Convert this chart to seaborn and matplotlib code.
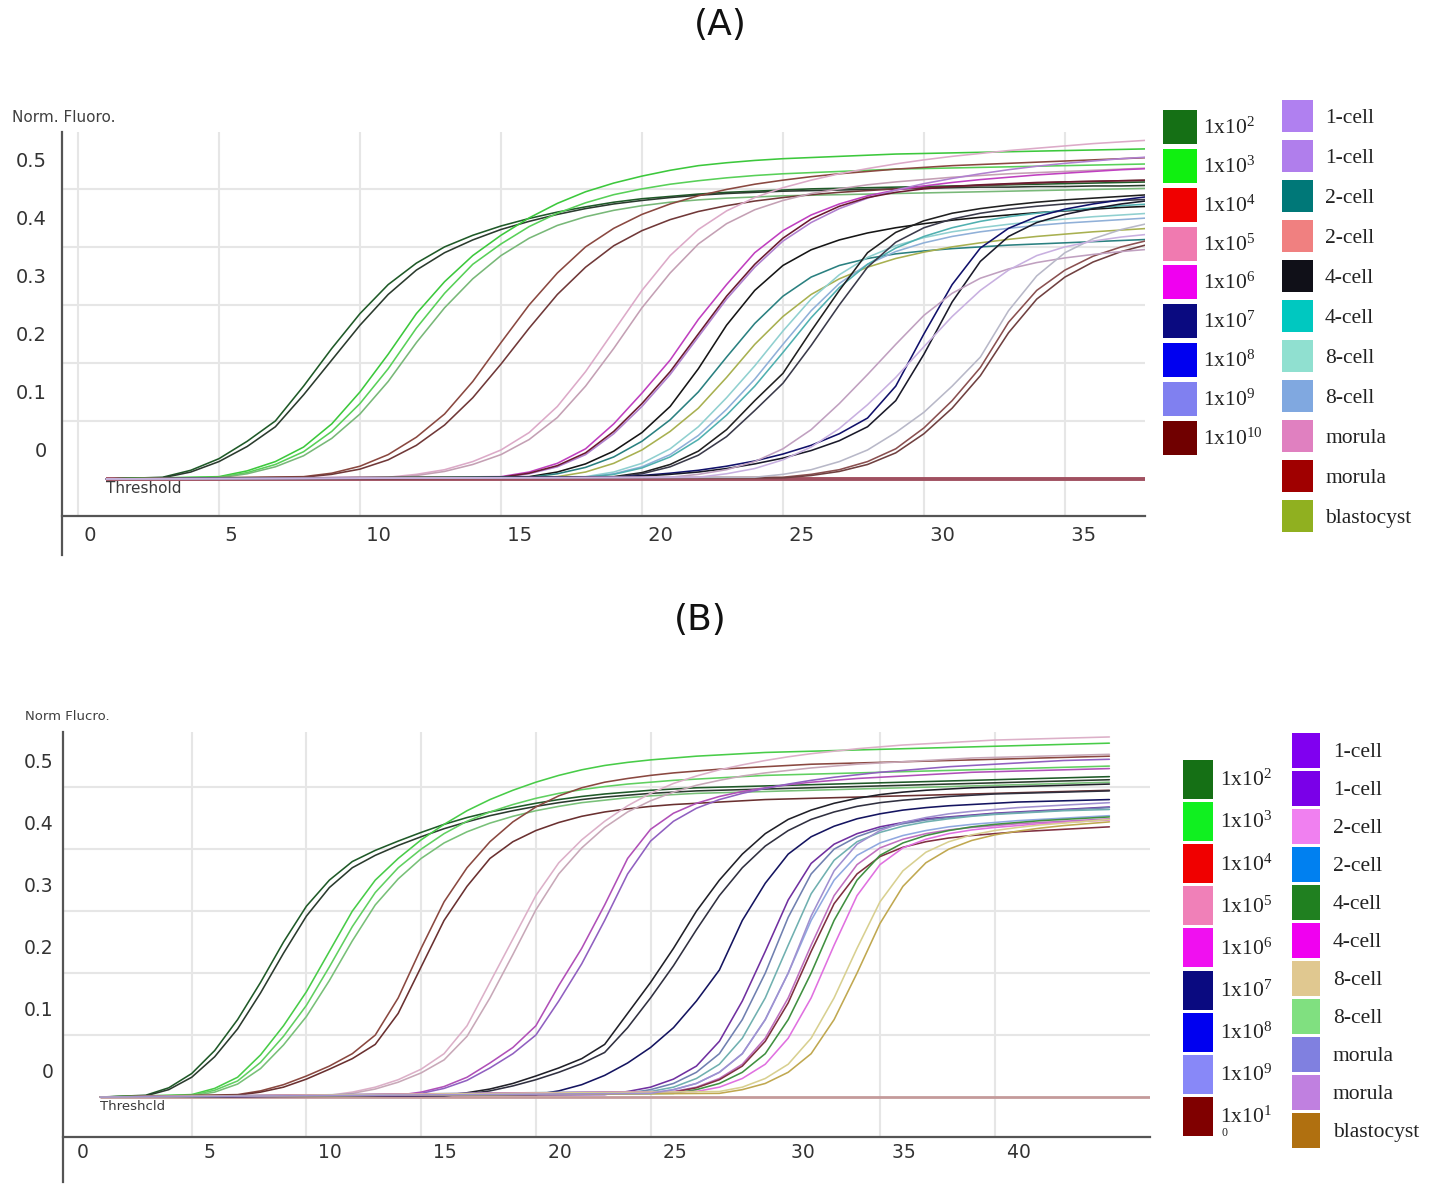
import numpy as np
import pandas as pd
import matplotlib
matplotlib.use("Agg")
import matplotlib.pyplot as plt
import seaborn as sns
from matplotlib.patches import Patch

# ---------------- data: panel A (cycle values) ----------------
a_colors = ['#1f5a28', '#2b3b2e', '#3cc83c', '#58d058', '#78b878', '#8a4840', '#703838',
            '#dcaac8', '#c4a0b4', '#c040c0', '#b080d0', '#6a1a30', '#151515', '#2a8080',
            '#a8b050', '#90d0d0', '#90b0d8', '#50b0b0', '#202020', '#3a3a4a', '#10106a',
            '#1a1a2a', '#8a5050', '#704040', '#c0a0c0', '#b8b8c8', '#c8b0e0']
a_starts = [3, 3, 5, 5, 5, 8, 8, 11, 11, 15, 15, 15, 16, 16, 17, 18, 18, 18, 19, 19, 19, 19,
            25, 25, 21, 24, 22]
a_values = [
    [0.003,0.015,0.035,0.065,0.100,0.160,0.225,0.285,0.335,0.372,0.400,0.420,0.436,0.449,0.460,0.469,0.477,0.483,0.487,0.491,0.494,0.496,0.498,0.500,0.501,0.502,0.503,0.504,0.505,0.506,0.507,0.508,0.509,0.510,0.511,0.512],
    [0.002,0.012,0.030,0.056,0.090,0.145,0.205,0.265,0.318,0.360,0.390,0.412,0.430,0.444,0.456,0.466,0.474,0.480,0.485,0.489,0.492,0.494,0.496,0.497,0.498,0.499,0.500,0.501,0.502,0.503,0.503,0.504,0.504,0.505,0.505,0.506],
    [0.004,0.014,0.030,0.055,0.095,0.150,0.215,0.285,0.340,0.385,0.420,0.450,0.475,0.495,0.510,0.522,0.532,0.540,0.545,0.549,0.552,0.554,0.556,0.558,0.560,0.561,0.562,0.563,0.564,0.565,0.566,0.567,0.568,0.569],
    [0.003,0.011,0.025,0.047,0.082,0.130,0.190,0.260,0.320,0.370,0.405,0.435,0.458,0.476,0.490,0.500,0.508,0.514,0.519,0.523,0.526,0.528,0.530,0.532,0.534,0.535,0.536,0.537,0.538,0.539,0.540,0.541,0.542,0.543],
    [0.002,0.009,0.021,0.040,0.070,0.112,0.168,0.235,0.295,0.345,0.385,0.415,0.437,0.452,0.463,0.471,0.477,0.481,0.484,0.486,0.488,0.489,0.490,0.491,0.492,0.493,0.494,0.495,0.496,0.497,0.498,0.499,0.500,0.501],
    [0.004,0.010,0.022,0.042,0.072,0.112,0.168,0.235,0.300,0.355,0.400,0.432,0.456,0.474,0.488,0.499,0.508,0.515,0.521,0.526,0.530,0.534,0.537,0.540,0.542,0.544,0.546,0.548,0.550,0.552,0.554],
    [0.003,0.008,0.017,0.033,0.058,0.093,0.140,0.198,0.260,0.318,0.365,0.402,0.428,0.447,0.461,0.471,0.479,0.485,0.490,0.494,0.497,0.500,0.502,0.504,0.506,0.508,0.510,0.512,0.513,0.514,0.515],
    [0.003,0.008,0.016,0.030,0.050,0.080,0.125,0.185,0.255,0.325,0.385,0.430,0.462,0.485,0.502,0.515,0.526,0.535,0.543,0.550,0.556,0.561,0.566,0.570,0.574,0.578,0.581,0.584],
    [0.002,0.006,0.013,0.025,0.042,0.068,0.106,0.160,0.225,0.295,0.355,0.405,0.440,0.464,0.480,0.492,0.500,0.507,0.512,0.516,0.520,0.523,0.526,0.528,0.530,0.532,0.534,0.536],
    [0.004,0.012,0.027,0.052,0.095,0.148,0.205,0.275,0.335,0.390,0.428,0.455,0.474,0.488,0.498,0.505,0.511,0.516,0.520,0.524,0.527,0.530,0.533,0.535],
    [0.003,0.009,0.021,0.042,0.078,0.125,0.180,0.245,0.310,0.365,0.410,0.442,0.466,0.484,0.498,0.509,0.518,0.526,0.533,0.539,0.544,0.548,0.552,0.555],
    [0.003,0.010,0.023,0.045,0.082,0.130,0.185,0.250,0.315,0.370,0.415,0.448,0.470,0.485,0.494,0.500,0.504,0.507,0.509,0.511,0.512,0.513,0.514,0.515],
    [0.004,0.012,0.026,0.048,0.080,0.125,0.190,0.265,0.325,0.368,0.395,0.412,0.424,0.433,0.440,0.446,0.451,0.455,0.459,0.462,0.465,0.468,0.470],
    [0.003,0.009,0.020,0.038,0.065,0.102,0.150,0.210,0.268,0.315,0.348,0.368,0.380,0.388,0.393,0.397,0.400,0.403,0.405,0.407,0.409,0.411,0.413],
    [0.004,0.012,0.027,0.050,0.082,0.122,0.175,0.232,0.280,0.318,0.345,0.365,0.380,0.391,0.400,0.407,0.413,0.418,0.422,0.426,0.429,0.432],
    [0.004,0.012,0.027,0.052,0.090,0.140,0.195,0.255,0.310,0.352,0.382,0.402,0.416,0.426,0.433,0.439,0.444,0.448,0.452,0.455,0.458],
    [0.003,0.009,0.021,0.042,0.075,0.120,0.172,0.232,0.290,0.337,0.370,0.392,0.407,0.418,0.426,0.432,0.437,0.441,0.444,0.447,0.450],
    [0.003,0.008,0.019,0.038,0.068,0.110,0.160,0.218,0.278,0.330,0.370,0.398,0.418,0.433,0.444,0.452,0.458,0.463,0.467,0.471,0.474],
    [0.004,0.011,0.025,0.048,0.085,0.135,0.182,0.255,0.325,0.390,0.425,0.445,0.458,0.466,0.472,0.477,0.481,0.484,0.487,0.490],
    [0.003,0.009,0.021,0.041,0.073,0.118,0.165,0.230,0.300,0.365,0.408,0.433,0.448,0.458,0.465,0.470,0.474,0.477,0.480,0.482],
    [0.003,0.006,0.010,0.015,0.022,0.031,0.043,0.058,0.078,0.105,0.160,0.250,0.335,0.398,0.432,0.452,0.465,0.474,0.481,0.487],
    [0.002,0.005,0.008,0.012,0.018,0.026,0.036,0.049,0.066,0.090,0.135,0.215,0.305,0.375,0.418,0.442,0.456,0.466,0.474,0.480],
    [0.003,0.008,0.016,0.030,0.052,0.088,0.135,0.192,0.270,0.325,0.360,0.384,0.400,0.412],
    [0.002,0.006,0.013,0.025,0.045,0.078,0.122,0.178,0.252,0.310,0.348,0.374,0.392,0.405],
    [0.003,0.008,0.016,0.030,0.052,0.085,0.130,0.180,0.232,0.282,0.320,0.346,0.362,0.373,0.381,0.387,0.392,0.396],
    [0.003,0.008,0.016,0.030,0.050,0.080,0.115,0.160,0.210,0.290,0.350,0.390,0.414,0.430,0.441],
    [0.003,0.009,0.018,0.033,0.055,0.087,0.128,0.175,0.228,0.280,0.325,0.360,0.385,0.400,0.410,0.417,0.422],
]

# ---------------- data: panel B ----------------
b_colors = ['#1f5a28', '#2b3b2e', '#48cc48', '#60d060', '#78c078', '#8a4840', '#6a3030',
            '#dcb0c8', '#c8a8b8', '#b050b8', '#9060c0', '#202028', '#303040', '#141460',
            '#7030a0', '#7080b0', '#70b0b0', '#90a8e0', '#c070c0', '#803040', '#409040',
            '#e070e0', '#c0a850', '#d8d090', '#a090d0']
b_starts = [3, 3, 5, 5, 5, 7, 7, 11, 11, 14, 14, 16, 16, 20, 23, 24, 25, 25, 26, 26, 26, 27,
            28, 28, 25]
b_values = [
    [0.003,0.015,0.038,0.075,0.125,0.185,0.250,0.308,0.350,0.380,0.398,0.413,0.427,0.440,0.451,0.460,0.467,0.474,0.480,0.485,0.489,0.492,0.495,0.497,0.499,0.500,0.501,0.502,0.503,0.504,0.505,0.506,0.507,0.508,0.509,0.510,0.511,0.512,0.513,0.514,0.515,0.516,0.517],
    [0.002,0.012,0.032,0.065,0.110,0.168,0.232,0.292,0.338,0.370,0.390,0.406,0.420,0.433,0.444,0.454,0.462,0.469,0.475,0.480,0.484,0.487,0.490,0.492,0.494,0.495,0.496,0.497,0.498,0.499,0.500,0.501,0.502,0.503,0.504,0.505,0.506,0.507,0.508,0.509,0.510,0.511,0.512],
    [0.004,0.014,0.032,0.068,0.115,0.170,0.235,0.300,0.350,0.385,0.415,0.440,0.462,0.480,0.495,0.508,0.519,0.528,0.535,0.540,0.544,0.547,0.550,0.552,0.554,0.556,0.557,0.558,0.559,0.560,0.561,0.562,0.563,0.564,0.565,0.566,0.567,0.568,0.569,0.570,0.571],
    [0.003,0.011,0.026,0.056,0.098,0.148,0.210,0.275,0.330,0.370,0.400,0.425,0.445,0.460,0.472,0.482,0.490,0.496,0.501,0.505,0.508,0.511,0.513,0.515,0.517,0.519,0.520,0.521,0.522,0.523,0.524,0.525,0.526,0.527,0.528,0.529,0.530,0.531,0.532,0.533,0.534],
    [0.002,0.008,0.021,0.046,0.084,0.130,0.188,0.252,0.310,0.352,0.385,0.410,0.428,0.442,0.453,0.462,0.469,0.475,0.479,0.483,0.486,0.488,0.490,0.491,0.492,0.493,0.494,0.495,0.496,0.497,0.498,0.499,0.500,0.501,0.502,0.503,0.504,0.505,0.506,0.507,0.508],
    [0.004,0.010,0.020,0.034,0.050,0.070,0.100,0.160,0.240,0.315,0.370,0.412,0.444,0.468,0.486,0.499,0.508,0.514,0.519,0.523,0.526,0.529,0.531,0.533,0.535,0.537,0.538,0.539,0.540,0.541,0.542,0.543,0.544,0.545,0.546,0.547,0.548,0.549,0.550],
    [0.003,0.008,0.016,0.029,0.045,0.062,0.085,0.135,0.210,0.285,0.340,0.385,0.412,0.430,0.443,0.453,0.460,0.465,0.469,0.472,0.474,0.476,0.478,0.480,0.481,0.482,0.483,0.484,0.485,0.486,0.487,0.488,0.489,0.490,0.491,0.492,0.493,0.494,0.495],
    [0.003,0.008,0.016,0.028,0.045,0.070,0.115,0.185,0.255,0.325,0.378,0.415,0.445,0.470,0.490,0.506,0.518,0.528,0.536,0.543,0.549,0.554,0.558,0.562,0.565,0.568,0.570,0.572,0.574,0.576,0.577,0.578,0.579,0.580,0.581],
    [0.002,0.006,0.013,0.024,0.039,0.060,0.098,0.160,0.230,0.302,0.360,0.402,0.435,0.460,0.478,0.492,0.503,0.511,0.518,0.523,0.527,0.531,0.534,0.537,0.539,0.541,0.543,0.545,0.547,0.548,0.549,0.550,0.551,0.552,0.553],
    [0.003,0.008,0.017,0.032,0.055,0.080,0.115,0.180,0.240,0.310,0.385,0.432,0.458,0.474,0.485,0.493,0.499,0.504,0.508,0.511,0.514,0.516,0.518,0.520,0.522,0.524,0.525,0.526,0.527,0.528,0.529,0.530],
    [0.002,0.006,0.014,0.027,0.047,0.070,0.100,0.155,0.215,0.285,0.360,0.413,0.445,0.466,0.480,0.490,0.498,0.505,0.511,0.516,0.520,0.524,0.527,0.530,0.533,0.535,0.537,0.539,0.541,0.543,0.544,0.545],
    [0.003,0.007,0.013,0.022,0.034,0.047,0.062,0.085,0.135,0.185,0.240,0.300,0.350,0.392,0.425,0.448,0.463,0.474,0.482,0.488,0.492,0.495,0.497,0.499,0.500,0.501,0.502,0.503,0.504,0.505],
    [0.002,0.005,0.010,0.018,0.028,0.040,0.054,0.072,0.112,0.160,0.212,0.270,0.325,0.370,0.405,0.430,0.448,0.460,0.469,0.475,0.479,0.482,0.485,0.487,0.489,0.490,0.491,0.492,0.493,0.494],
    [0.004,0.010,0.020,0.035,0.055,0.080,0.112,0.155,0.205,0.285,0.345,0.392,0.420,0.437,0.449,0.457,0.463,0.467,0.470,0.472,0.474,0.476,0.477,0.478,0.479,0.480],
    [0.004,0.009,0.016,0.029,0.050,0.090,0.155,0.235,0.318,0.377,0.408,0.425,0.436,0.443,0.449,0.452,0.455,0.458,0.460,0.462,0.464,0.466,0.468],
    [0.006,0.012,0.022,0.040,0.070,0.125,0.200,0.290,0.360,0.400,0.420,0.433,0.441,0.447,0.451,0.454,0.457,0.459,0.461,0.463,0.465,0.467],
    [0.009,0.016,0.030,0.053,0.095,0.160,0.245,0.328,0.382,0.412,0.427,0.437,0.444,0.449,0.453,0.456,0.458,0.460,0.462,0.463,0.464],
    [0.006,0.012,0.022,0.040,0.070,0.125,0.200,0.285,0.350,0.390,0.410,0.422,0.430,0.436,0.440,0.443,0.446,0.448,0.450,0.452,0.454],
    [0.009,0.016,0.030,0.053,0.095,0.160,0.245,0.325,0.375,0.402,0.416,0.425,0.431,0.435,0.438,0.441,0.443,0.445,0.447,0.449],
    [0.008,0.015,0.028,0.050,0.090,0.152,0.235,0.312,0.360,0.388,0.403,0.412,0.418,0.422,0.425,0.428,0.430,0.432,0.434,0.436],
    [0.006,0.012,0.022,0.040,0.070,0.125,0.200,0.285,0.350,0.390,0.410,0.422,0.430,0.436,0.440,0.443,0.446,0.448,0.450,0.452],
    [0.009,0.016,0.030,0.053,0.095,0.160,0.245,0.325,0.375,0.402,0.416,0.425,0.431,0.435,0.438,0.441,0.443,0.445,0.447],
    [0.006,0.012,0.022,0.040,0.070,0.125,0.200,0.280,0.340,0.378,0.400,0.414,0.423,0.429,0.434,0.438,0.441,0.444],
    [0.009,0.016,0.030,0.053,0.095,0.160,0.240,0.315,0.365,0.395,0.412,0.423,0.430,0.435,0.439,0.442,0.445,0.448],
    [0.006,0.012,0.022,0.040,0.070,0.125,0.200,0.292,0.365,0.408,0.430,0.443,0.451,0.457,0.461,0.464,0.467,0.469,0.471,0.473,0.475],
]

threshold_level = 0.0
threshold_start = 1

# axis ticks / labels
y_ticks = [0.0, 0.1, 0.2, 0.3, 0.4, 0.5]
y_tick_labels = ['0', '0.1', '0.2', '0.3', '0.4', '0.5']
a_x_ticks = [0, 5, 10, 15, 20, 25, 30, 35]
a_x_labels = ['0', '5', '10', '15', '20', '25', '30', '35']
b_x_ticks = [0, 5, 10, 15, 20, 25, 30.6, 35, 40]
b_x_labels = ['0', '5', '10', '15', '20', '25', '30', '35', '40']
a_grid_x = [0, 5, 10, 15, 20, 25, 30, 35]
b_grid_x = [5, 10, 15, 20, 25, 35, 40]
grid_y = [0.1, 0.2, 0.3, 0.4, 0.5]

# legends
a_std_labels = ['1x10$^{2}$', '1x10$^{3}$', '1x10$^{4}$', '1x10$^{5}$', '1x10$^{6}$',
                '1x10$^{7}$', '1x10$^{8}$', '1x10$^{9}$', '1x10$^{10}$']
a_std_colors = ['#157015', '#10f010', '#f00000', '#f07ab0', '#f000f0', '#0a0a80',
                '#0000f0', '#8080f0', '#700000']
a_smp_labels = ['1-cell', '1-cell', '2-cell', '2-cell', '4-cell', '4-cell', '8-cell',
                '8-cell', 'morula', 'morula', 'blastocyst']
a_smp_colors = ['#b080f0', '#b07eec', '#007878', '#f08080', '#101018', '#00c8c0',
                '#90e0d0', '#80a8e0', '#e080c0', '#a00000', '#90b020']
b_std_labels = ['1x10$^{2}$', '1x10$^{3}$', '1x10$^{4}$', '1x10$^{5}$', '1x10$^{6}$',
                '1x10$^{7}$', '1x10$^{8}$', '1x10$^{9}$', '1x10$^{1}$']
b_std_colors = ['#157015', '#10f020', '#f00000', '#f080b8', '#f010f0', '#0a0a80',
                '#0000f0', '#8888f8', '#800000']
b_smp_labels = ['1-cell', '1-cell', '2-cell', '2-cell', '4-cell', '4-cell', '8-cell',
                '8-cell', 'morula', 'morula', 'blastocyst']
b_smp_colors = ['#8000f0', '#7a00e8', '#f080f0', '#0080f0', '#208020', '#f000f0',
                '#e0c890', '#80e080', '#8080e0', '#c080e0', '#b07010']

# ---------------- figure ----------------
sns.set_style('white')
plt.rcParams['font.family'] = ['DejaVu Sans']
plt.rcParams['mathtext.default'] = 'regular'

W, H = 1434, 1187
fig = plt.figure(figsize=(W / 100, H / 100), dpi=100)
fig.patch.set_facecolor('white')

AXC = '#555555'
GRIDC = '#e6e6e6'


def panel(rect, colors, starts, values, xlim, ylim, axis_y, x_ticks, x_labels, grid_x,
          label_dx, label_dy, lab_size, tick_len, tick_pad, lead, thr_color, thr_lw,
          thr_text, thr_size, no_zero_tick):
    ax = fig.add_axes(rect)
    rows = []
    for i, (s, vals) in enumerate(zip(starts, values)):
        name = 'c%02d' % i
        rows.append((name, threshold_start, 0.0))
        for k, v in enumerate(vals):
            rows.append((name, s + k, v))
    df = pd.DataFrame(rows, columns=['curve', 'cycle', 'value'])
    pal = {'c%02d' % i: c for i, c in enumerate(colors)}
    # grid
    ax.vlines(grid_x, axis_y, ylim[1], color=GRIDC, lw=1.5, zorder=0)
    ax.hlines(grid_y, xlim[0], xlim[1], color=GRIDC, lw=1.5, zorder=0)
    # threshold
    ax.hlines(threshold_level, threshold_start, xlim[1], color=thr_color, lw=thr_lw, zorder=1)
    sns.lineplot(data=df, x='cycle', y='value', hue='curve', palette=pal, estimator=None,
                 legend=False, linewidth=1.15, ax=ax, zorder=3)
    ax.set_xlabel('')
    ax.set_ylabel('')
    ax.set_xlim(*xlim)
    ax.set_ylim(*ylim)
    for s in ['top', 'right']:
        ax.spines[s].set_visible(False)
    for s in ['left', 'bottom']:
        ax.spines[s].set_color(AXC)
        ax.spines[s].set_linewidth(1.6)
    ax.spines['bottom'].set_position(('data', axis_y))
    ax.set_yticks(y_ticks)
    ax.set_yticklabels([])
    ax.tick_params(axis='y', direction='out', length=8, width=1.6, color=AXC)
    for v, t in zip(y_ticks, y_tick_labels):
        ax.annotate(t, xy=(0, v), xycoords=('axes fraction', 'data'),
                    xytext=(label_dx, label_dy), textcoords='offset points',
                    ha='right', va='center', fontsize=lab_size, color='#333333')
    shown = [(t if (no_zero_tick and t == '0') else lead + t) for t in x_labels]
    ax.set_xticks(x_ticks)
    ax.set_xticklabels(shown)
    ax.tick_params(axis='x', direction='out', length=tick_len, width=1.4, color=AXC,
                   pad=tick_pad, labelsize=lab_size, labelcolor='#333333')
    plt.setp(ax.get_xticklabels(), ha='left')
    if no_zero_tick:
        ax.xaxis.get_major_ticks()[0].tick1line.set_visible(False)
    ax.text(threshold_start, -0.004, thr_text, ha='left', va='top', fontsize=thr_size,
            color='#3a3a3a', zorder=5)
    return ax


axA = panel([62 / W, 1 - 555 / H, 1083 / W, 423 / H], a_colors, a_starts, a_values,
            (-0.567, 37.84), (-0.131, 0.598), -0.064, a_x_ticks, a_x_labels, a_grid_x,
            -11, 19.5, 14, 6.5, 0.5, ' ', '#a05060', 2.8, 'Threshold', 11, False)
axB = panel([63 / W, 1 - 1182 / H, 1087 / W, 450 / H], b_colors, b_starts, b_values,
            (-0.61, 46.77), (-0.137, 0.589), -0.0645, b_x_ticks, b_x_labels, b_grid_x,
            -7, 17.5, 13.5, 18, -13.5, '  ', '#c49a9a', 2.0, 'Threshcld', 9.5, True)

# titles and axis names
fig.text(720 / W, 1 - 25 / H, '(A)', ha='center', va='center', fontsize=26, color='#111111')
fig.text(700 / W, 1 - 620 / H, '(B)', ha='center', va='center', fontsize=26, color='#111111')
fig.text(12 / W, 1 - 118 / H, 'Norm. Fluoro.', ha='left', va='center', fontsize=11,
         color='#404040')
fig.text(25 / W, 1 - 716 / H, 'Norm Flucro.', ha='left', va='center', fontsize=9.5,
         color='#404040')

# legends
LEG_FONT = {'family': 'Liberation Serif', 'size': 15.5}


def legend(labels, colors, x_px, y_px, hl, hh, ls, htp):
    handles = [Patch(facecolor=c, edgecolor='none') for c in colors]
    leg = fig.legend(handles, labels, loc='upper left',
                     bbox_to_anchor=(x_px / W, 1 - y_px / H), bbox_transform=fig.transFigure,
                     frameon=False, borderpad=0, borderaxespad=0, handlelength=hl,
                     handleheight=hh, labelspacing=ls, handletextpad=htp, prop=LEG_FONT)
    for t in leg.get_texts():
        t.set_color('#222222')
    return leg


legend(a_std_labels, a_std_colors, 1163, 110, 1.58, 2.06, 0.22, 0.28)
legend(a_smp_labels, a_smp_colors, 1282, 100, 1.44, 1.91, 0.37, 0.56)
legend(b_std_labels, b_std_colors, 1183, 760, 1.40, 2.41, 0.145, 0.33)
legend(b_smp_labels, b_smp_colors, 1292, 733, 1.30, 2.13, 0.135, 0.60)
fig.text(1225 / W, 1 - 1133 / H, '0', ha='center', va='center', fontsize=8.5,
         family='Liberation Serif', color='#222222')

fig.savefig('out.png', dpi=100, facecolor='white')
